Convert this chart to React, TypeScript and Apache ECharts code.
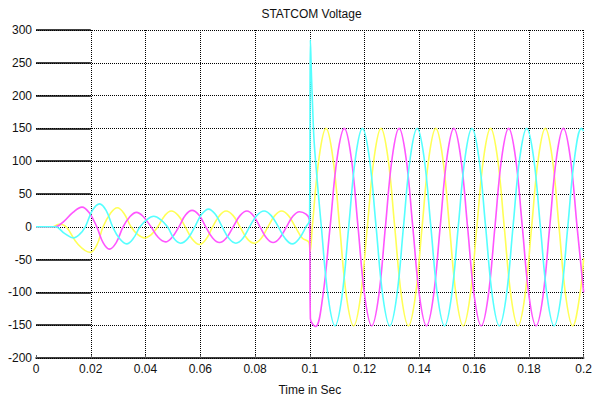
import React, { useEffect, useRef } from "react";
import * as echarts from "echarts";

const titleText = "STATCOM Voltage";
const xAxisName = "Time in Sec";
const xTicks = [0, 0.02, 0.04, 0.06, 0.08, 0.1, 0.12, 0.14, 0.16, 0.18, 0.2];
const yTicks = [-200, -150, -100, -50, 0, 50, 100, 150, 200, 250, 300];

// [time, value]
const phaseYellow: [number, number][] = [
  [0, 0], [0.006, 0], [0.0085, 4], [0.011, 0], [0.0154, -27], [0.0198, -39],
  [0.0222, -28], [0.0245, 0], [0.0271, 20], [0.0297, 29], [0.0322, 20], [0.0347, 0],
  [0.0372, -12], [0.0397, -17], [0.0421, -12], [0.0445, 0], [0.047, 17], [0.0494, 24],
  [0.052, 17], [0.0545, 0], [0.0571, -19], [0.0597, -27], [0.0621, -19], [0.0645, 0],
  [0.067, 17], [0.0694, 24], [0.072, 17], [0.0745, 0], [0.0771, -18], [0.0797, -25],
  [0.0822, -18], [0.0847, 0], [0.0872, 17], [0.0897, 24], [0.0922, 17], [0.0947, 0],
  [0.0972, -17], [0.0997, -24], [0.1001, -38], [0.1009, 0],
  [0.1034, 106], [0.1059, 150], [0.1084, 106], [0.1109, 0], [0.1134, -107], [0.116, -151],
  [0.1185, -107], [0.121, 0], [0.1235, 106], [0.126, 150], [0.1285, 106], [0.131, 0],
  [0.1335, -107], [0.136, -151], [0.1385, -107], [0.141, 0], [0.1435, 106], [0.146, 150],
  [0.1485, 106], [0.151, 0], [0.1535, -107], [0.156, -151], [0.1585, -107], [0.161, 0],
  [0.1635, 106], [0.166, 150], [0.1685, 106], [0.171, 0], [0.1735, -107], [0.176, -151],
  [0.1785, -107], [0.181, 0], [0.1835, 106], [0.186, 150], [0.1885, 106], [0.191, 0],
  [0.1935, -107], [0.196, -151], [0.1985, -107], [0.2, -48],
];

const phaseMagenta: [number, number][] = [
  [0, 0], [0.007, 0], [0.0101, 8], [0.0135, 22], [0.0168, 30], [0.0195, 21], [0.0222, 0],
  [0.0245, -24], [0.0268, -34], [0.0293, -24], [0.0318, 0], [0.0342, 15], [0.0367, 22],
  [0.0393, 15], [0.042, 0], [0.0446, -16], [0.0473, -23], [0.0497, -16], [0.0522, 0],
  [0.0546, 18], [0.057, 25], [0.0595, 18], [0.062, 0], [0.0645, -17], [0.067, -24],
  [0.0695, -17], [0.072, 0], [0.0745, 17], [0.077, 24], [0.0794, 17], [0.0818, 0],
  [0.0842, -17], [0.0866, -24], [0.089, -17], [0.0915, 0], [0.0938, 16], [0.0962, 23],
  [0.0999, 10], [0.1002, -140], [0.1021, -152], [0.1047, -107], [0.1074, 0], [0.11, 106],
  [0.1126, 150], [0.1151, 106], [0.1176, 0], [0.1201, -107], [0.1226, -151], [0.1251, -107],
  [0.1276, 0], [0.1301, 106], [0.1326, 150], [0.1351, 106], [0.1376, 0], [0.1401, -107],
  [0.1426, -151], [0.1451, -107], [0.1476, 0], [0.1501, 106], [0.1526, 150], [0.1551, 106],
  [0.1576, 0], [0.1601, -107], [0.1626, -151], [0.1651, -107], [0.1676, 0], [0.1701, 106],
  [0.1726, 150], [0.1751, 106], [0.1776, 0], [0.1801, -107], [0.1826, -151], [0.1851, -107],
  [0.1876, 0], [0.1901, 106], [0.1926, 150], [0.1951, 106], [0.1976, 0], [0.2, -100],
];

const phaseCyan: [number, number][] = [
  [0, 0], [0.007, 0], [0.0104, -10], [0.0137, -17], [0.0158, -12], [0.018, 0], [0.0206, 25],
  [0.0232, 35], [0.0256, 25], [0.028, 0], [0.0305, -18], [0.0331, -26], [0.0355, -18],
  [0.038, 0], [0.0405, 11], [0.043, 16], [0.0455, 11], [0.048, 0], [0.0504, -18],
  [0.0528, -25], [0.0554, -18], [0.058, 0], [0.0605, 19], [0.063, 27], [0.0655, 19],
  [0.068, 0], [0.0705, -18], [0.073, -25], [0.0755, -18], [0.078, 0], [0.0806, 17],
  [0.0833, 24], [0.0859, 17], [0.0885, 0], [0.091, -18], [0.0936, -26], [0.0961, -18],
  [0.0986, 0], [0.0999, 10], [0.1002, 285], [0.1006, 230], [0.101, 185], [0.1015, 135],
  [0.1022, 95], [0.1042, 0], [0.1067, -107], [0.1092, -151], [0.1117, -107], [0.1142, 0],
  [0.1167, 106], [0.1192, 150], [0.1217, 106], [0.1242, 0], [0.1267, -107], [0.1292, -151],
  [0.1317, -107], [0.1342, 0], [0.1367, 106], [0.1392, 150], [0.1417, 106], [0.1442, 0],
  [0.1467, -107], [0.1492, -151], [0.1517, -107], [0.1542, 0], [0.1567, 106], [0.1592, 150],
  [0.1617, 106], [0.1642, 0], [0.1667, -107], [0.1692, -151], [0.1717, -107], [0.1742, 0],
  [0.1767, 106], [0.1792, 150], [0.1817, 106], [0.1842, 0], [0.1867, -107], [0.1892, -151],
  [0.1917, -107], [0.1942, 0], [0.1967, 106], [0.1992, 150], [0.2, 146],
];

const seriesNames = ["Phase A", "Phase B", "Phase C"];
const seriesColors = ["#ffff55", "#ff55ff", "#55ffff"];

export default function App() {
  const ref = useRef<HTMLDivElement>(null);
  useEffect(() => {
    if (!ref.current) return;
    const chart = echarts.init(ref.current, null, { renderer: "svg" });
    const font = "'Liberation Sans', Arial, sans-serif";
    const datasets = [phaseYellow, phaseMagenta, phaseCyan];
    const segs = yTicks
      .filter((v) => v !== 0 && v !== yTicks[0])
      .map((v) => [{ coord: [xTicks[0], v] }, { coord: [xTicks[1], v] }]);
    const gridLeft = 36;
    const gridRight = 8;
    chart.setOption({
      animation: false,
      backgroundColor: "#ffffff",
      textStyle: { fontFamily: font },
      graphic: [
        {
          type: "text",
          x: (gridLeft + 595 - gridRight) / 2,
          y: 14,
          style: {
            text: titleText,
            textAlign: "center",
            textVerticalAlign: "middle",
            fontSize: 12,
            fontFamily: font,
            fill: "#111",
          },
        },
      ],
      grid: { left: gridLeft, right: gridRight, top: 30, bottom: 34, containLabel: false },
      xAxis: {
        type: "value",
        min: xTicks[0],
        max: xTicks[xTicks.length - 1],
        interval: 0.02,
        name: xAxisName,
        nameLocation: "middle",
        nameGap: 26,
        nameTextStyle: { fontSize: 12, color: "#111", fontFamily: font },
        axisLine: { show: true, onZero: false, lineStyle: { color: "#000", width: 1.5 } },
        axisTick: { show: true, inside: true, length: 3, lineStyle: { color: "#666" } },
        axisLabel: {
          fontSize: 12,
          color: "#111",
          margin: 5,
          formatter: (v: number) => String(+v.toFixed(2)),
        },
        splitLine: {
          show: true,
          showMinLine: false,
          lineStyle: { color: "#000", width: 1, type: [1, 1] },
        },
      },
      yAxis: {
        type: "value",
        min: yTicks[0],
        max: yTicks[yTicks.length - 1],
        interval: 50,
        axisLine: { show: false },
        axisTick: { show: false },
        axisLabel: { fontSize: 12, color: "#111", margin: 4 },
        splitLine: { show: true, lineStyle: { color: "#000", width: 1, type: [1, 1] } },
      },
      series: [
        {
          name: "segments",
          type: "line",
          data: [],
          silent: true,
          markLine: {
            silent: true,
            symbol: ["none", "none"],
            label: { show: false },
            lineStyle: { color: "#000", width: 1.6, type: "solid" },
            data: segs,
          },
        },
        ...datasets.map((d, i) => ({
          name: seriesNames[i],
          type: "line",
          data: d,
          smooth: 0.4,
          showSymbol: false,
          symbol: "none",
          lineStyle: { color: seriesColors[i], width: 1.6 },
          itemStyle: { color: seriesColors[i] },
        })),
      ],
    });
    return () => chart.dispose();
  }, []);
  return (
    <div
      ref={ref}
      style={{ position: "fixed", left: 0, top: 0, width: 595, height: 401 }}
    />
  );
}
